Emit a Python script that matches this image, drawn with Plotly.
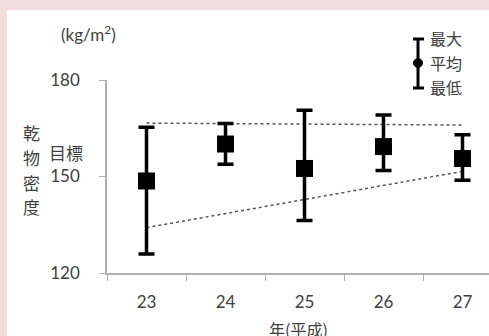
import plotly.graph_objects as go

years = ["23", "24", "25", "26", "27"]
mean_vals = [148.6, 160.1, 152.5, 159.3, 155.6]
max_vals = [165.3, 166.5, 170.6, 169.1, 163.0]
min_vals = [125.9, 153.8, 136.3, 151.9, 148.8]
target_x = ["23", "27"]
target_upper = [166.6, 166.0]
target_lower = [134.1, 151.6]
y_ticks = [120, 150, 180]

W, H = 489, 336
L, R, T, B = 107, 0, 80, 63
pw, ph = W - L - R, H - T - B


def px(x):
    return (x - L) / pw


def py(y):
    return (H - B - y) / ph


FONT = "Lato, Noto Sans CJK JP, sans-serif"
CJK = "Noto Sans CJK JP, sans-serif"
TXT = "#404040"

fig = go.Figure()
fig.add_trace(go.Scatter(x=target_x, y=target_upper, mode="lines",
                         line=dict(color="#555555", width=1.5, dash="dot"),
                         showlegend=False, hoverinfo="skip"))
fig.add_trace(go.Scatter(x=target_x, y=target_lower, mode="lines",
                         line=dict(color="#555555", width=1.5, dash="dot"),
                         showlegend=False, hoverinfo="skip"))
fig.add_trace(go.Scatter(
    x=years, y=mean_vals, mode="markers",
    marker=dict(symbol="square", size=17, color="black"),
    error_y=dict(type="data", symmetric=False,
                 array=[mx - m for mx, m in zip(max_vals, mean_vals)],
                 arrayminus=[m - mn for m, mn in zip(mean_vals, min_vals)],
                 color="black", thickness=3.5, width=8),
    showlegend=False, cliponaxis=False))

shapes = [
    dict(type="rect", xref="paper", yref="paper", x0=px(7), x1=px(W + 5),
         y0=py(10), y1=py(H + 5), fillcolor="white", line=dict(width=0),
         layer="below"),
    # legend icon
    dict(type="line", xref="paper", yref="paper", x0=px(418), x1=px(418),
         y0=py(39), y1=py(88), line=dict(color="black", width=3)),
    dict(type="line", xref="paper", yref="paper", x0=px(413), x1=px(424),
         y0=py(39), y1=py(39), line=dict(color="black", width=3)),
    dict(type="line", xref="paper", yref="paper", x0=px(413), x1=px(424),
         y0=py(88), y1=py(88), line=dict(color="black", width=3)),
    dict(type="circle", xref="paper", yref="paper", x0=px(413.5), x1=px(422.5),
         y0=py(58.5), y1=py(67.5), fillcolor="black", line=dict(color="black", width=1)),
]

annotations = [
    dict(text="(kg/m<sup>2</sup>)", x=px(88), y=py(33), font=dict(size=17, family=FONT, color=TXT)),
    dict(text="乾", x=px(31), y=py(132), font=dict(size=17, family=CJK, color=TXT)),
    dict(text="物", x=px(31), y=py(157), font=dict(size=17, family=CJK, color=TXT)),
    dict(text="密", x=px(31), y=py(182), font=dict(size=17, family=CJK, color=TXT)),
    dict(text="度", x=px(31), y=py(206), font=dict(size=17, family=CJK, color=TXT)),
    dict(text="目標", x=px(66), y=py(152), font=dict(size=17, family=CJK, color=TXT)),
    dict(text="年(平成)", x=px(298), y=py(329), font=dict(size=16, family=CJK, color=TXT)),
    dict(text="最大", x=px(428), y=py(38), xanchor="left", font=dict(size=16, family=CJK, color=TXT)),
    dict(text="平均", x=px(428), y=py(63), xanchor="left", font=dict(size=16, family=CJK, color=TXT)),
    dict(text="最低", x=px(428), y=py(87), xanchor="left", font=dict(size=16, family=CJK, color=TXT)),
]
for a in annotations:
    a.update(xref="paper", yref="paper", showarrow=False)
    a.setdefault("xanchor", "center")
    a["yanchor"] = "middle"

fig.update_layout(
    width=W, height=H,
    margin=dict(l=L, r=R, t=T, b=B),
    paper_bgcolor="#f3dcdd", plot_bgcolor="white",
    shapes=shapes, annotations=annotations,
    font=dict(family=FONT, size=17, color=TXT),
    xaxis=dict(type="category", categoryorder="array", categoryarray=years,
               range=[-0.5, -0.5 + pw / 79], showgrid=False, zeroline=False,
               showline=True, linecolor="#b0b0b0", linewidth=1.5,
               ticks="outside", tickson="boundaries", ticklen=6, tickcolor="#b0b0b0",
               ticklabelstandoff=13,
               tickfont=dict(size=17, family=FONT, color=TXT)),
    yaxis=dict(range=[120, 180], tickvals=y_ticks, showgrid=False, zeroline=False,
               showline=True, linecolor="#b0b0b0", linewidth=1.5,
               ticks="outside", ticklen=6, tickcolor="#b0b0b0",
               ticklabelstandoff=16,
               tickfont=dict(size=17, family=FONT, color=TXT)),
)

fig.write_html("out.html", config={"displayModeBar": False},
               post_script="document.body.style.margin='0';document.body.style.overflow='hidden';")
